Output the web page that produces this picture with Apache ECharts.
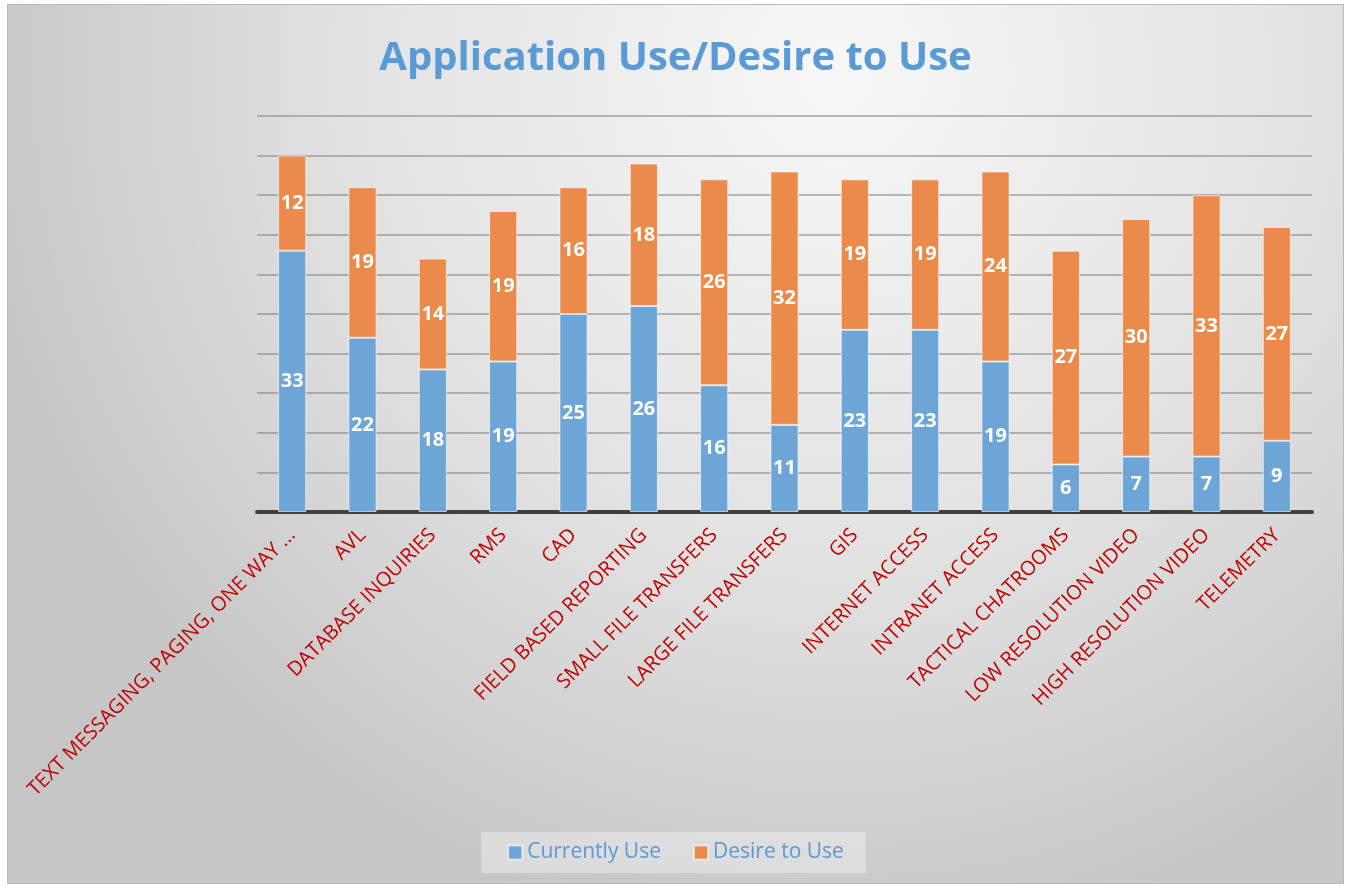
<!DOCTYPE html>
<html>
<head>
<meta charset="utf-8">
<title>Application Use/Desire to Use</title>
<script src="https://cdn.jsdelivr.net/npm/echarts@6/dist/echarts.min.js"></script>
<style>
  html, body { margin: 0; padding: 0; background: #ffffff; }
  #chart {
    position: absolute;
    left: 7px;
    top: 4px;
    width: 1337px;
    height: 880px;
    border: 1px solid #b8b8b8;
    box-sizing: border-box;
  }
</style>
</head>
<body>
<div id="chart"></div>
<script>
const categories = [
  'TEXT MESSAGING, PAGING, ONE WAY ...',
  'AVL',
  'DATABASE INQUIRIES',
  'RMS',
  'CAD',
  'FIELD BASED REPORTING',
  'SMALL FILE TRANSFERS',
  'LARGE FILE TRANSFERS',
  'GIS',
  'INTERNET ACCESS',
  'INTRANET ACCESS',
  'TACTICAL CHATROOMS',
  'LOW RESOLUTION VIDEO',
  'HIGH RESOLUTION VIDEO',
  'TELEMETRY'
]
const currentlyUse = [33, 22, 18, 19, 25, 26, 16, 11, 23, 23, 19, 6, 7, 7, 9]
const desireToUse = [12, 19, 14, 19, 16, 18, 26, 32, 19, 19, 24, 27, 30, 33, 27]

const chart = echarts.init(document.getElementById('chart'))

// soft grey backdrop, lighter toward the top middle
const backdrop = new echarts.graphic.RadialGradient(0.62, 0.08, 1.0, [
  { offset: 0, color: '#f7f7f7' },
  { offset: 0.55, color: '#e2e2e2' },
  { offset: 1, color: '#c6c6c6' }
])

const labelStyle = {
  show: true,
  position: 'inside',
  color: '#ffffff',
  fontWeight: 'bold',
  fontSize: 20,
  fontFamily: 'Open Sans, sans-serif'
}

chart.setOption({
  backgroundColor: backdrop,
  textStyle: { fontFamily: 'Open Sans, sans-serif' },
  title: {
    text: 'Application Use/Desire to Use',
    left: 'center',
    top: 29,
    textStyle: { color: '#5b9bd5', fontSize: 40, fontWeight: 'bold', fontFamily: 'Open Sans, sans-serif' }
  },
  legend: {
    bottom: 10,
    left: 'center',
    padding: [10, 22, 10, 26],
    backgroundColor: 'rgba(235,235,235,0.55)',
    itemWidth: 14,
    itemHeight: 14,
    itemGap: 32,
    icon: 'rect',
    textStyle: { color: '#5b9bd5', fontSize: 21, fontFamily: 'Open Sans, sans-serif' },
    data: ['Currently Use', 'Desire to Use']
  },
  grid: { left: 249, right: 31, top: 111, bottom: 371 },
  xAxis: {
    type: 'category',
    data: categories,
    axisLine: { lineStyle: { color: '#404040', width: 4 } },
    axisTick: { show: false },
    axisLabel: {
      rotate: 45,
      interval: 0,
      color: '#c00000',
      fontSize: 20,
      margin: 20,
      fontFamily: 'Open Sans, sans-serif'
    }
  },
  yAxis: {
    type: 'value',
    min: 0,
    max: 50,
    interval: 5,
    axisLabel: { show: false },
    axisLine: { show: false },
    axisTick: { show: false },
    splitLine: { lineStyle: { color: 'rgba(110,110,110,0.45)', width: 2 } }
  },
  series: [
    {
      name: 'Currently Use',
      type: 'bar',
      stack: 'total',
      barWidth: '40%',
      data: currentlyUse,
      itemStyle: { color: '#6ea5d7', borderColor: 'rgba(255,255,255,0.6)', borderWidth: 1 },
      label: labelStyle
    },
    {
      name: 'Desire to Use',
      type: 'bar',
      stack: 'total',
      barWidth: '40%',
      data: desireToUse,
      itemStyle: { color: '#ea8b4b', borderColor: 'rgba(255,255,255,0.6)', borderWidth: 1 },
      label: labelStyle
    }
  ]
})
</script>
</body>
</html>
